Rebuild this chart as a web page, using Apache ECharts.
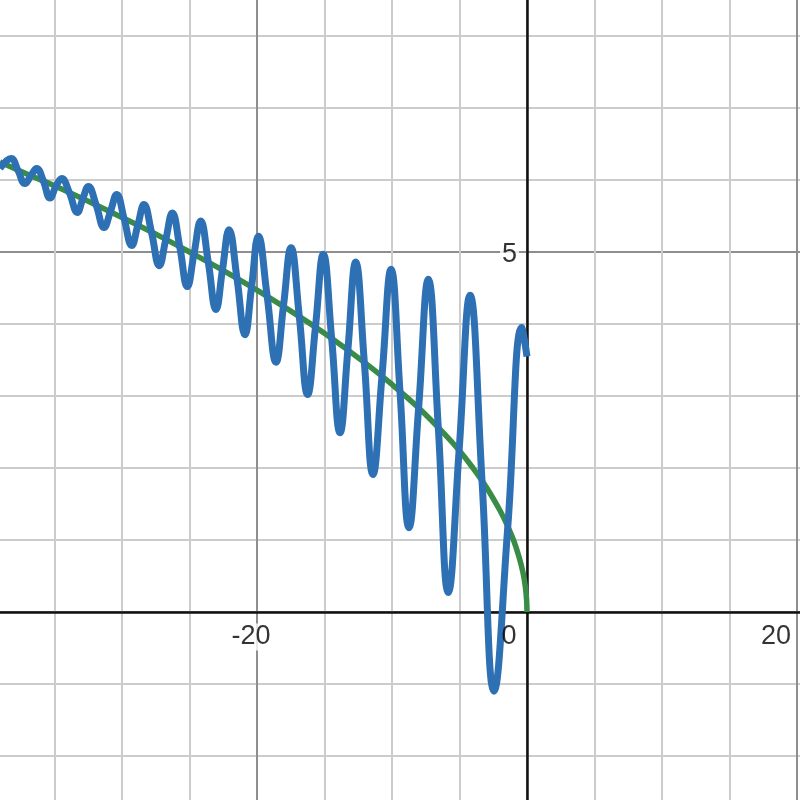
<!DOCTYPE html>
<html>
<head>
<meta charset="utf-8">
<script src="https://cdn.jsdelivr.net/npm/echarts@6/dist/echarts.min.js"></script>
<style>
html,body{margin:0;padding:0;background:#fff;overflow:hidden;width:800px;height:800px;}
#c{position:absolute;left:-13px;top:-108px;width:1080px;height:1080px;}
</style>
</head>
<body>
<div id="c"></div>
<script>
// Oscillating curve (blue): edge, peaks, troughs and crossing points
const blueX = [-39.04, -38.22, -37.70, -37.19, -36.75, -36.32, -35.83, -35.33, -34.90, -34.47, -33.89, -33.31, -32.90, -32.49, -31.91, -31.33, -30.86, -30.39, -29.84, -29.28, -28.83, -28.37, -27.81, -27.24, -26.76, -26.27, -25.72, -25.16, -24.67, -24.17, -23.61, -23.04, -22.56, -22.07, -21.48, -20.89, -20.40, -19.90, -19.25, -18.59, -18.04, -17.48, -16.87, -16.25, -15.67, -15.09, -14.47, -13.85, -13.27, -12.69, -12.05, -11.41, -10.74, -10.07, -9.41, -8.74, -8.03, -7.31, -6.57, -5.83, -5.03, -4.22, -3.33, -2.44, -1.42, -0.39, 0];
const blueY = [6.16, 6.30, 6.13, 5.95, 6.06, 6.16, 5.99, 5.75, 5.91, 6.02, 5.82, 5.55, 5.74, 5.91, 5.65, 5.34, 5.56, 5.80, 5.46, 5.09, 5.37, 5.66, 5.27, 4.81, 5.17, 5.54, 5.07, 4.52, 4.97, 5.43, 4.86, 4.20, 4.75, 5.31, 4.63, 3.85, 4.52, 5.22, 4.39, 3.47, 4.25, 5.06, 4.11, 3.02, 3.96, 4.97, 3.80, 2.49, 3.64, 4.86, 3.47, 1.91, 3.28, 4.76, 3.07, 1.17, 2.83, 4.62, 2.56, 0.27, 2.24, 4.40, 1.82, -1.10, 1.19, 3.95, 3.55];

// Smooth curve (green)
const greenX = [-39.04, -37, -35, -32, -30, -27, -25, -22, -20, -17, -15, -12, -10, -8, -6, -5, -4, -3, -2, -1.5, -1, -0.6, -0.3, -0.12, -0.03, 0];
const greenY = [6.25, 6.08, 5.92, 5.66, 5.48, 5.20, 5.00, 4.69, 4.47, 4.12, 3.87, 3.46, 3.16, 2.83, 2.45, 2.24, 2.00, 1.73, 1.41, 1.22, 1.00, 0.77, 0.55, 0.35, 0.17, 0];

// Tick labels shown on the axes
const xLabels = [-20, 0, 20];
const yLabels = [5];

const pair = (xs, ys) => xs.map((x, i) => [x, ys[i]]);

const fontFam = '"Liberation Sans", Arial, sans-serif';
const labelBase = {show: true, position: 'inside', fontSize: 27, fontFamily: fontFam, color: '#000',
  textBorderWidth: 0, textShadowBlur: 0,
  backgroundColor: '#fff', padding: [0, 2, 0, 2], formatter: p => p.data.name};

const xLabelData = xLabels.map(v => ({
  name: String(v), value: [v, 0],
  label: {offset: v === 0 ? [-18, 25] : (v < 0 ? [-6, 25] : [-21, 25]),
          backgroundColor: v === 0 ? 'transparent' : '#fff'}
}));
const yLabelData = yLabels.map(v => ({name: String(v), value: [0, v], label: {offset: [-17.5, 3]}}));

const chart = echarts.init(document.getElementById('c'), null, {renderer: 'canvas'});
chart.setOption({
  backgroundColor: '#ffffff',
  animation: false,
  grid: {left: 0, right: 0, top: 0, bottom: 0, containLabel: false, outerBoundsMode: 'none'},
  xAxis: {
    type: 'value', min: -40, max: 40, interval: 20,
    axisLine: {onZero: true, lineStyle: {color: '#111', width: 2.5}},
    axisTick: {show: false},
    axisLabel: {show: false},
    splitLine: {show: true, lineStyle: {color: '#8e8e8e', width: 2}},
    minorTick: {show: false, splitNumber: 4},
    minorSplitLine: {show: true, lineStyle: {color: '#cccccc', width: 2}}
  },
  yAxis: {
    type: 'value', min: -5, max: 10, interval: 5,
    axisLine: {onZero: true, lineStyle: {color: '#111', width: 2.5}},
    axisTick: {show: false},
    axisLabel: {show: false},
    splitLine: {show: true, lineStyle: {color: '#8e8e8e', width: 2}},
    minorTick: {show: false, splitNumber: 5},
    minorSplitLine: {show: true, lineStyle: {color: '#cccccc', width: 2}}
  },
  series: [
    {
      type: 'line', data: pair(greenX, greenY), smooth: 0.4, showSymbol: false,
      lineStyle: {color: '#388c46', width: 5.5}, z: 2
    },
    {
      type: 'line', data: pair(blueX, blueY), smooth: 0.45, showSymbol: false,
      lineStyle: {color: '#2d70b3', width: 7}, z: 3
    },
    {
      type: 'scatter', data: xLabelData.concat(yLabelData), symbolSize: 0, z: 4,
      label: labelBase, silent: true
    }
  ]
});
</script>
</body>
</html>
